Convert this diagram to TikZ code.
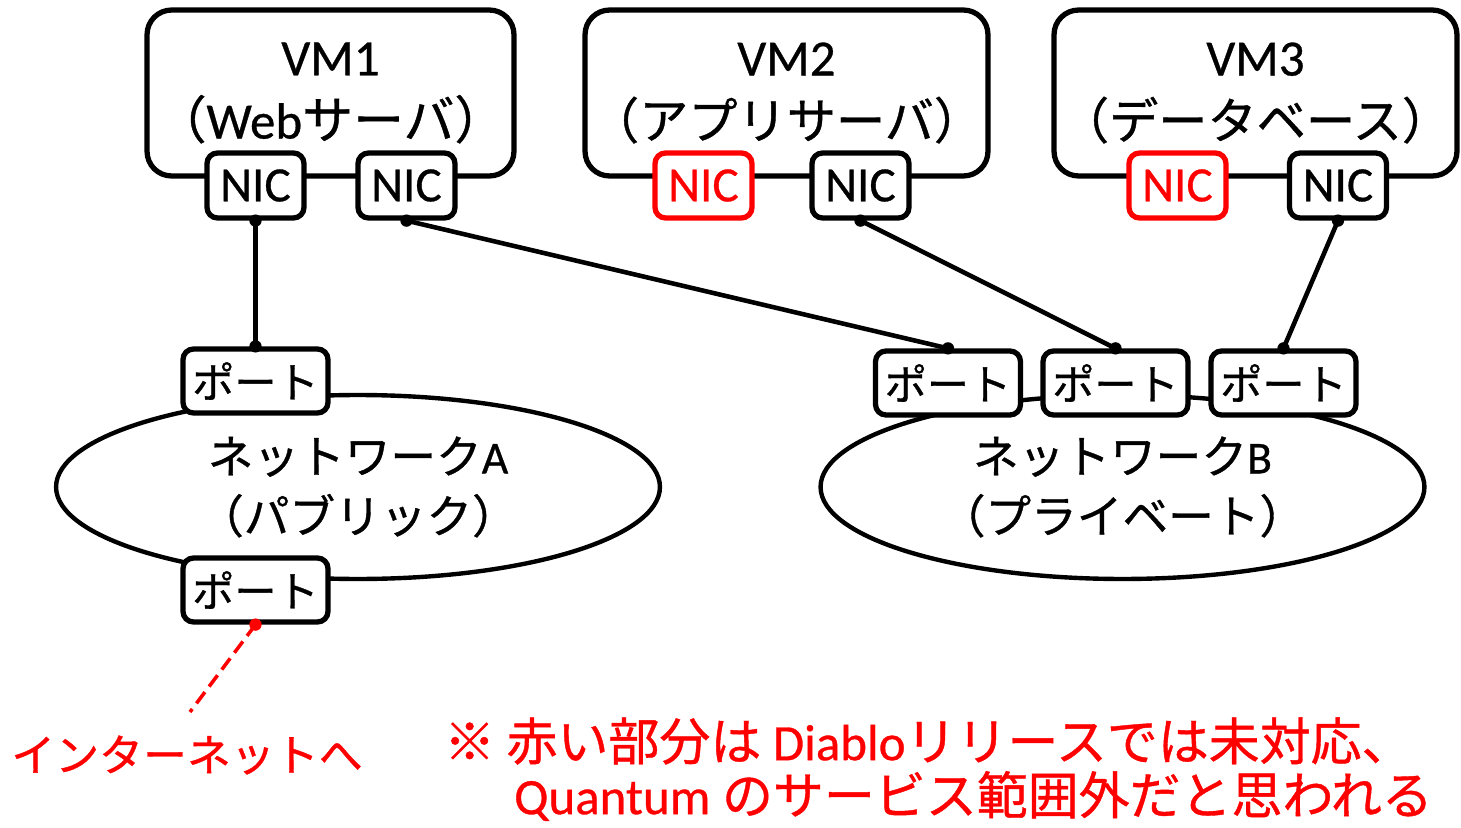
\documentclass[tikz,border=0pt]{standalone}
\usepackage{fontspec}
\setmainfont{Carlito}[RawFeature={embolden=0.6}]
\newfontfamily\jp{Noto Sans CJK JP}[RawFeature={embolden=0.8}]
\usetikzlibrary{positioning, shapes.geometric}

\begin{document}
\begin{tikzpicture}[x=0.02cm,y=-0.02cm]
  \tikzset{>=latex}
  \tikzset{vmbox/.style={draw,rounded corners=14pt,line width=3pt,minimum height=3.32cm,align=center,
      inner xsep=0pt,font=\fontsize{29}{36}\selectfont},
    nicbox/.style={draw,fill=white,rounded corners=6pt,line width=3pt,minimum width=1.94cm,minimum height=1.30cm,
      inner sep=0pt,font=\fontsize{28}{30}\selectfont},
    portbox/.style={draw,fill=white,rounded corners=6pt,line width=3pt,minimum width=2.9cm,minimum height=1.28cm,
      inner sep=0pt,font=\jp\fontsize{24}{28}\selectfont},
    netw/.style={draw,ellipse,line width=2.5pt,minimum width=12.08cm,minimum height=3.68cm,inner sep=0pt,align=center,
      font=\fontsize{26}{34}\selectfont},
    wire/.style={line width=2.6pt},
    pin/.style={fill=black,circle,inner sep=0pt,minimum size=7pt}}
  \useasboundingbox (0,0) rectangle (1461,828);

  % virtual machines
  \node[vmbox,minimum width=7.34cm] (vm1) at (330.5,93) {VM1\\{\jp （}Web{\jp サーバ）}};
  \node[vmbox,minimum width=8.06cm] (vm2) at (786.5,93) {VM2\\{\jp\fontsize{28}{36}\selectfont （アプリサーバ）}};
  \node[vmbox,minimum width=8.06cm] (vm3) at (1255.5,93) {VM3\\{\jp\fontsize{28}{36}\selectfont （データベース）}};

  \node[nicbox] (nic1a) at (255.5,185.5) {NIC};
  \node[nicbox] (nic1b) at (406.5,185.5) {NIC};
  \node[nicbox,draw=red,text=red] (nic2a) at (703.5,185.5) {NIC};
  \node[nicbox] (nic2b) at (860.5,185.5) {NIC};
  \node[nicbox,draw=red,text=red] (nic3a) at (1177.5,185.5) {NIC};
  \node[nicbox] (nic3b) at (1338,185.5) {NIC};

  % networks
  \node[netw] (netA) at (358,487) {{\jp ネットワーク}A\\{\jp （パブリック）}};
  \node[netw] (netB) at (1122.5,487) {{\jp ネットワーク}B\\{\jp （プライベート）}};

  \node[portbox] (portA1) at (255.5,381) {ポート};
  \node[portbox] (portA2) at (255.5,590) {ポート};
  \node[portbox] (portB1) at (948,383) {ポート};
  \node[portbox] (portB2) at (1115.5,383) {ポート};
  \node[portbox] (portB3) at (1283.5,383) {ポート};

  % wiring
  \draw[wire] (nic1a.south) -- (portA1.north);
  \draw[wire] (nic1b.south) -- (portB1.north);
  \draw[wire] (nic2b.south) -- (portB2.north);
  \draw[wire] (nic3b.south) -- (portB3.north);
  \foreach \n in {nic1a,nic1b,nic2b,nic3b} \node[pin] at (\n.south) {};
  \foreach \n in {portA1,portB1,portB2,portB3} \node[pin] at (\n.north) {};

  \node[text=red,font=\jp\fontsize{25}{30}\selectfont] (inet) at (187,755) {インターネットへ};
  \coordinate (toNet) at (190,712);
  \draw[red,line width=2pt,dash pattern=on 8pt off 4pt] (portA2.south) -- (toNet);
  \node[pin,fill=red] (pinA2) at (portA2.south) {};

  % note
  \node[text=red,anchor=west,font=\fontsize{29}{34}\selectfont] (note1) at (438,741)
    {{\jp ※ 赤い部分は} Diablo{\jp リリースでは未対応、}};
  \node[text=red,anchor=west,font=\fontsize{29}{34}\selectfont] (note2) at (508,796)
    {Quantum {\jp のサービス範囲外だと思われる}};
\end{tikzpicture}
\end{document}
